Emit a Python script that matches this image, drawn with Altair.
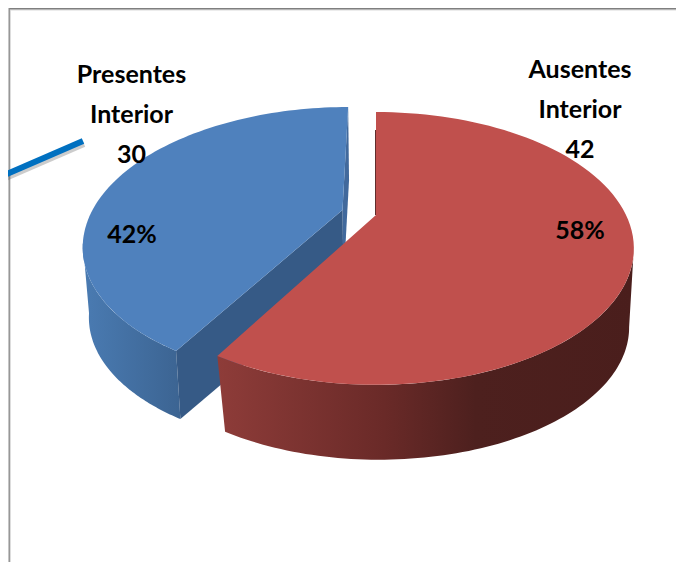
import numpy as np
import pandas as pd
import altair as alt

# values
categories = ["Presentes Interior", "Ausentes Interior"]
counts = [30, 42]

FONT = "Lato"
TOP_RED = "#c0504d"
TOP_BLUE = "#4f81bd"
INNER_BLUE = "#365a86"

# perspective of the disc
R, S, P = 250.0, 128.2, 0.245
total = sum(counts)
cut = 360.0 * counts[1] / total  # red slice runs clockwise from twelve o'clock


def rim(ax, ay, t0, t1, s=1.0, shear=0.0, n=90):
    th = np.radians(np.linspace(t0, t1, n))
    w = 1 / (1 + P * np.cos(th))
    x = ax + s * R * np.sin(th) * w
    y = ay - s * S * np.cos(th) * w
    return list(x + shear * (y - ay)), list(y)


def frame(xs, ys):
    return pd.DataFrame({"x": xs, "y": ys, "i": range(len(xs))})


xs = alt.Scale(domain=[8, 676], nice=False, zero=False)
ys = alt.Scale(domain=[562, 8], nice=False, zero=False)


def enc(ch):
    return ch.encode(
        x=alt.X("x:Q", scale=xs, axis=None),
        y=alt.Y("y:Q", scale=ys, axis=None),
        order="i:Q",
    )


def poly(xv, yv, fill):
    return enc(alt.Chart(frame(xv, yv)).mark_line(fill=fill, strokeOpacity=0, strokeWidth=0, clip=False))


def grad(stops):
    return alt.Gradient(
        gradient="linear", x1=0, x2=1, y1=0, y2=0,
        stops=[alt.GradientStop(offset=o, color=c) for o, c in stops],
    )


def stroke(xv, yv, color, width, opacity=1.0):
    return enc(alt.Chart(frame(xv, yv)).mark_line(color=color, strokeWidth=width, opacity=opacity))


# blue slice (pulled out to the left)
BA, BAY = 342.5, 210.0
BB, BBY = 343.5, 281.0
SH = -0.055
bx, by = rim(BA, BAY, cut, 360, shear=SH)
bwx_t, bwy_t = rim(BA, BAY, cut, 256, shear=SH)
bwx_b, bwy_b = rim(BB, BBY, cut, 256, s=0.98, shear=SH)
tipx, tipy = rim(BA, BAY, cut, cut, shear=SH, n=1)
ltipx, ltipy = rim(BB, BBY, cut, cut, s=0.98, shear=SH, n=1)
topx, topy = rim(BA, BAY, 360, 360, shear=SH, n=1)
ltopx, ltopy = rim(BB, BBY, 360, 360, s=0.98, shear=SH, n=1)

blue_wall = poly(bwx_t + bwx_b[::-1], bwy_t + bwy_b[::-1],
                 grad([(0, "#4a7bb2"), (1, "#3c6492")]))
blue_face = poly([BA, tipx[0], ltipx[0], BB], [BAY, tipy[0], ltipy[0], BBY], INNER_BLUE)
blue_sliver = poly([topx[0], ltopx[0], BB, BA], [topy[0], ltopy[0], BBY, BAY], "#41699c")
blue_top = poly([BA] + bx, [BAY] + by, TOP_BLUE)

# red slice
RA, RAY = 376.0, 215.0
RB, RBY = 379.0, 295.0
rx, ry = rim(RA, RAY, 0, cut)
rwx_t, rwy_t = rim(RA, RAY, 104, cut)
rwx_b, rwy_b = rim(RB, RBY, 104, cut, s=0.97)
red_wall = poly(rwx_t + rwx_b[::-1], rwy_t + rwy_b[::-1],
                grad([(0, "#8e3c39"), (0.4, "#6a2a28"), (0.62, "#4d201e"), (1, "#4a1e1c")]))
red_top = poly([RA] + rx, [RAY] + ry, TOP_RED)
red_edge = stroke([RA - 0.5, RA - 0.5], [130, RAY], "#5a2624", 1, 0.8)

# frame of the chart
frame_top = stroke([9, 684], [8.6, 8.6], "#7f7f7f", 1.6)
frame_top2 = stroke([10, 684], [10, 10], "#d9d9d9", 1.2)
frame_left = stroke([9.2, 9.2], [8, 562], "#8c8c8c", 1.4)
frame_left2 = stroke([10.4, 10.4], [10, 562], "#d9d9d9", 1)

# leader line with its shadow
leader_x = [0, 83]
leader_y = [177, 141]
leader_shadow = stroke([x + 1 for x in leader_x], [y + 3 for y in leader_y], "#555555", 6, 0.3)
leader = stroke(leader_x, leader_y, "#0070c0", 6)

# texts
names = [c.split(" ") for c in categories]
pct = [f"{round(100 * c / total)}%" for c in counts]
label_x = [131.5, 580]
first_baseline = [83, 78]
pct_x = [132, 580]
pct_base = [243, 239]
rows = []
for k in range(2):
    for j, t in enumerate(names[k] + [str(counts[k])]):
        rows.append({"x": label_x[k], "y": first_baseline[k] + 40 * j, "t": t})
    rows.append({"x": pct_x[k], "y": pct_base[k], "t": pct[k]})
labels = alt.Chart(pd.DataFrame(rows)).mark_text(
    font=FONT, fontSize=25, fontWeight="bold", color="#000000",
    align="center", baseline="alphabetic",
).encode(
    x=alt.X("x:Q", scale=xs, axis=None),
    y=alt.Y("y:Q", scale=ys, axis=None),
    text="t:N",
)

chart = alt.layer(
    frame_top2, frame_top, frame_left2, frame_left,
    blue_wall, blue_sliver, blue_face, blue_top,
    red_wall, red_edge, red_top, red_edge,
    leader_shadow, leader, labels,
).properties(
    width=668, height=554, padding=0,
    autosize=alt.AutoSizeParams(type="none"),
    background="white",
).configure_view(stroke=None)

chart.save("out.html", embed_options={"renderer": "svg", "actions": False})
